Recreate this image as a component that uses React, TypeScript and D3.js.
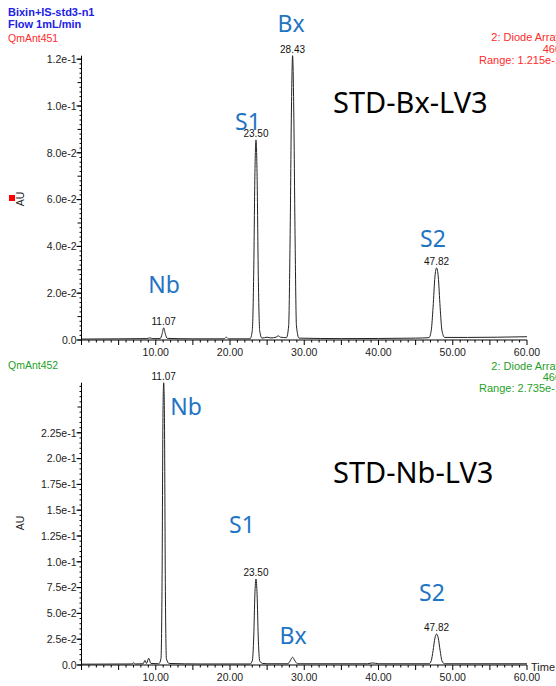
import React from "react";
import * as d3 from "d3";

// ---------- data ----------
const xTickValues = [10, 20, 30, 40, 50, 60];
const topYTicks = [0, 0.02, 0.04, 0.06, 0.08, 0.1, 0.12];
const topYLabels = ["0.0", "2.0e-2", "4.0e-2", "6.0e-2", "8.0e-2", "1.0e-1", "1.2e-1"];
const botYTicks = [0, 0.025, 0.05, 0.075, 0.1, 0.125, 0.15, 0.175, 0.2, 0.225];
const botYLabels = ["0.0", "2.5e-2", "5.0e-2", "7.5e-2", "1.0e-1", "1.25e-1", "1.5e-1", "1.75e-1", "2.0e-1", "2.25e-1"];

// chromatogram 1 (STD-Bx-LV3): [time(min), AU]
const traceBx: [number, number][] = [
  [0, 0.0004], [5, 0.0005], [8.8, 0.0006], [9.2, 0.0009], [9.6, 0.0006], [10.6, 0.0006],
  [10.85, 0.0025], [11.07, 0.0052], [11.3, 0.0025], [11.55, 0.0007], [15, 0.0005],
  [19.2, 0.0005], [19.5, 0.0012], [19.8, 0.0005], [22.7, 0.0005], [23.0, 0.004],
  [23.2, 0.03], [23.35, 0.07], [23.5, 0.0855], [23.65, 0.07], [23.8, 0.03], [24.0, 0.004],
  [24.3, 0.0008], [25.0, 0.0012], [25.5, 0.0009], [26.2, 0.0012], [26.5, 0.0018],
  [26.8, 0.0012], [27.6, 0.001], [27.9, 0.006], [28.1, 0.045], [28.28, 0.1], [28.43, 0.1215],
  [28.58, 0.1], [28.76, 0.045], [28.95, 0.006], [29.3, 0.0008], [35, 0.0006], [45, 0.0008],
  [46.8, 0.001], [47.1, 0.004], [47.35, 0.014], [47.6, 0.027], [47.82, 0.0308], [48.05, 0.027],
  [48.3, 0.014], [48.55, 0.004], [48.9, 0.0011], [52, 0.0011], [60, 0.0014],
];

// chromatogram 2 (STD-Nb-LV3)
const traceNb: [number, number][] = [
  [0, 0.0008], [6.7, 0.001], [7.0, 0.002], [7.3, 0.001], [8.3, 0.0012], [8.55, 0.0045],
  [8.75, 0.0015], [9.05, 0.0065], [9.35, 0.0015], [10.4, 0.0012], [10.7, 0.006],
  [10.85, 0.08], [10.97, 0.24], [11.07, 0.2735], [11.17, 0.24], [11.29, 0.08], [11.44, 0.006],
  [11.8, 0.0015], [16, 0.001], [22.7, 0.001], [23.0, 0.004], [23.2, 0.028], [23.35, 0.068],
  [23.5, 0.0833], [23.65, 0.068], [23.8, 0.028], [24.0, 0.004], [24.4, 0.0015], [25, 0.0012],
  [27.8, 0.0012], [28.1, 0.004], [28.43, 0.0075], [28.75, 0.004], [29.1, 0.0012],
  [38.5, 0.0012], [39.2, 0.002], [40, 0.0012], [46.8, 0.0012], [47.1, 0.004], [47.35, 0.014],
  [47.6, 0.026], [47.82, 0.03], [48.05, 0.026], [48.3, 0.014], [48.55, 0.004], [48.9, 0.0012],
  [60, 0.0012],
];

const peaksBx: [number, number][] = [[11.07, 0.0052], [23.5, 0.0855], [28.43, 0.1215], [47.82, 0.0308]];
const peaksNb: [number, number][] = [[11.07, 0.2735], [23.5, 0.0833], [47.82, 0.03]];

// ---------- layout ----------
const W = 556, H = 686;
const FONT = "'Liberation Sans', Arial, sans-serif";
const BIG = "'Noto Sans', 'Open Sans', sans-serif";
const BLUE_ANN = "#1f74c4";
const TICK_FS = 10.5;

const x = d3.scaleLinear().domain([0, 60]).range([81.5, 527]);
const yTop = d3.scaleLinear().domain([0, 0.1215]).range([340, 340 - 0.1215 * 2340]);
const yBot = d3.scaleLinear().domain([0, 0.2735]).range([665, 665 - 0.2735 * 1032]);

function Panel({ y, ticks, labels, minorStep, midStep, trace, peaks, max }: any) {
  const line = d3.line<[number, number]>().x((d) => x(d[0])).y((d) => y(d[1])).curve(d3.curveMonotoneX);
  const y0 = y(0);
  const minor = d3.range(0, max + 1e-9, minorStep);
  const xMinor = d3.range(0, 61, 1);
  return (
    <g>
      <line x1={x(0)} x2={x(0)} y1={y(max)} y2={y0} stroke="#000" strokeWidth={1} />
      {minor.map((v: number, i: number) => {
        const isMid = Math.abs(v / midStep - Math.round(v / midStep)) < 1e-6;
        const len = isMid ? 4 : 2;
        return <line key={"ym" + i} x1={x(0) - len} x2={x(0)} y1={y(v)} y2={y(v)} stroke="#000" strokeWidth={1} />;
      })}
      {ticks.map((v: number, i: number) => (
        <g key={"yt" + i}>
          <line x1={x(0) - 5} x2={x(0)} y1={y(v)} y2={y(v)} stroke="#000" />
          <text x={x(0) - 5} y={y(v) + 3.7} textAnchor="end" fontSize={TICK_FS} fill="#222" fontFamily={FONT}>{labels[i]}</text>
        </g>
      ))}
      <line x1={x(0)} x2={x(60)} y1={y0} y2={y0} stroke="#000" strokeWidth={1} />
      {xMinor.map((v: number) => {
        const len = v % 5 === 0 ? 5 : 2.5;
        return <line key={"xm" + v} x1={x(v)} x2={x(v)} y1={y0} y2={y0 + len} stroke="#000" />;
      })}
      {xTickValues.map((v) => (
        <text key={"xt" + v} x={x(v)} y={y0 + 16} textAnchor="middle" fontSize={TICK_FS} fill="#222" fontFamily={FONT}>
          {v.toFixed(2)}
        </text>
      ))}
      <path d={line(trace) || ""} fill="none" stroke="#222" strokeWidth={1} />
      {peaks.map((p: [number, number], i: number) => (
        <text key={"pk" + i} x={x(p[0])} y={y(p[1]) - 3} textAnchor="middle" fontSize={10} fill="#111" fontFamily={FONT}>
          {p[0].toFixed(2)}
        </text>
      ))}
    </g>
  );
}

export default function App() {
  const ann = (t: string, cx: number, by: number, k: string) => (
    <text key={k} x={cx} y={by} textAnchor="middle" fontSize={23} fill={BLUE_ANN} fontFamily={BIG}>{t}</text>
  );
  return (
    <svg width={W} height={H} style={{ position: "absolute", left: 0, top: 0, background: "#fff" }}>
      <rect width={W} height={H} fill="#fff" />
      <text x={8} y={16} fontSize={11} fontWeight="bold" fill="#2020e8" fontFamily={FONT}>Bixin+IS-std3-n1</text>
      <text x={8} y={28} fontSize={11} fontWeight="bold" fill="#2020e8" fontFamily={FONT}>Flow 1mL/min</text>
      <text x={8} y={42} fontSize={10.5} fill="#ff2a2a" fontFamily={FONT}>QmAnt451</text>
      <text x={561} y={41} textAnchor="end" fontSize={11} fill="#ff2a2a" fontFamily={FONT}>2: Diode Array</text>
      <text x={561} y={53} textAnchor="end" fontSize={11} fill="#ff2a2a" fontFamily={FONT}>460</text>
      <text x={561} y={64} textAnchor="end" fontSize={11} fill="#ff2a2a" fontFamily={FONT}>Range: 1.215e-1</text>
      <rect x={9} y={195} width={6} height={6} fill="#ff0000" />
      <text transform="translate(24,199) rotate(-90)" textAnchor="middle" fontSize={10.5} fill="#222" fontFamily={FONT}>AU</text>

      <Panel y={yTop} ticks={topYTicks} labels={topYLabels} minorStep={0.002} midStep={0.01} trace={traceBx} peaks={peaksBx} max={0.1215} />

      {ann("Bx", 291, 32, "a1")}
      {ann("S1", 248, 130, "a2")}
      {ann("S2", 433, 247, "a3")}
      {ann("Nb", 164, 293, "a4")}
      <text x={333} y={113} fontSize={29} fill="#000" fontFamily={BIG}>STD-Bx-LV3</text>

      <text x={8} y={369} fontSize={10.5} fill="#1f9f1f" fontFamily={FONT}>QmAnt452</text>
      <text x={561} y={370} textAnchor="end" fontSize={11} fill="#1f9f1f" fontFamily={FONT}>2: Diode Array</text>
      <text x={561} y={381} textAnchor="end" fontSize={11} fill="#1f9f1f" fontFamily={FONT}>460</text>
      <text x={561} y={392} textAnchor="end" fontSize={11} fill="#1f9f1f" fontFamily={FONT}>Range: 2.735e-1</text>
      <text transform="translate(24,523) rotate(-90)" textAnchor="middle" fontSize={10.5} fill="#222" fontFamily={FONT}>AU</text>

      <Panel y={yBot} ticks={botYTicks} labels={botYLabels} minorStep={0.005} midStep={0.025} trace={traceNb} peaks={peaksNb} max={0.2735} />
      <text x={531} y={671} fontSize={11} fill="#222" fontFamily={FONT}>Time</text>

      {ann("Nb", 186, 415, "b1")}
      {ann("S1", 242, 533, "b2")}
      {ann("S2", 432, 601, "b3")}
      {ann("Bx", 293, 644, "b4")}
      <text x={333} y={483} fontSize={29} fill="#000" fontFamily={BIG}>STD-Nb-LV3</text>
    </svg>
  );
}
